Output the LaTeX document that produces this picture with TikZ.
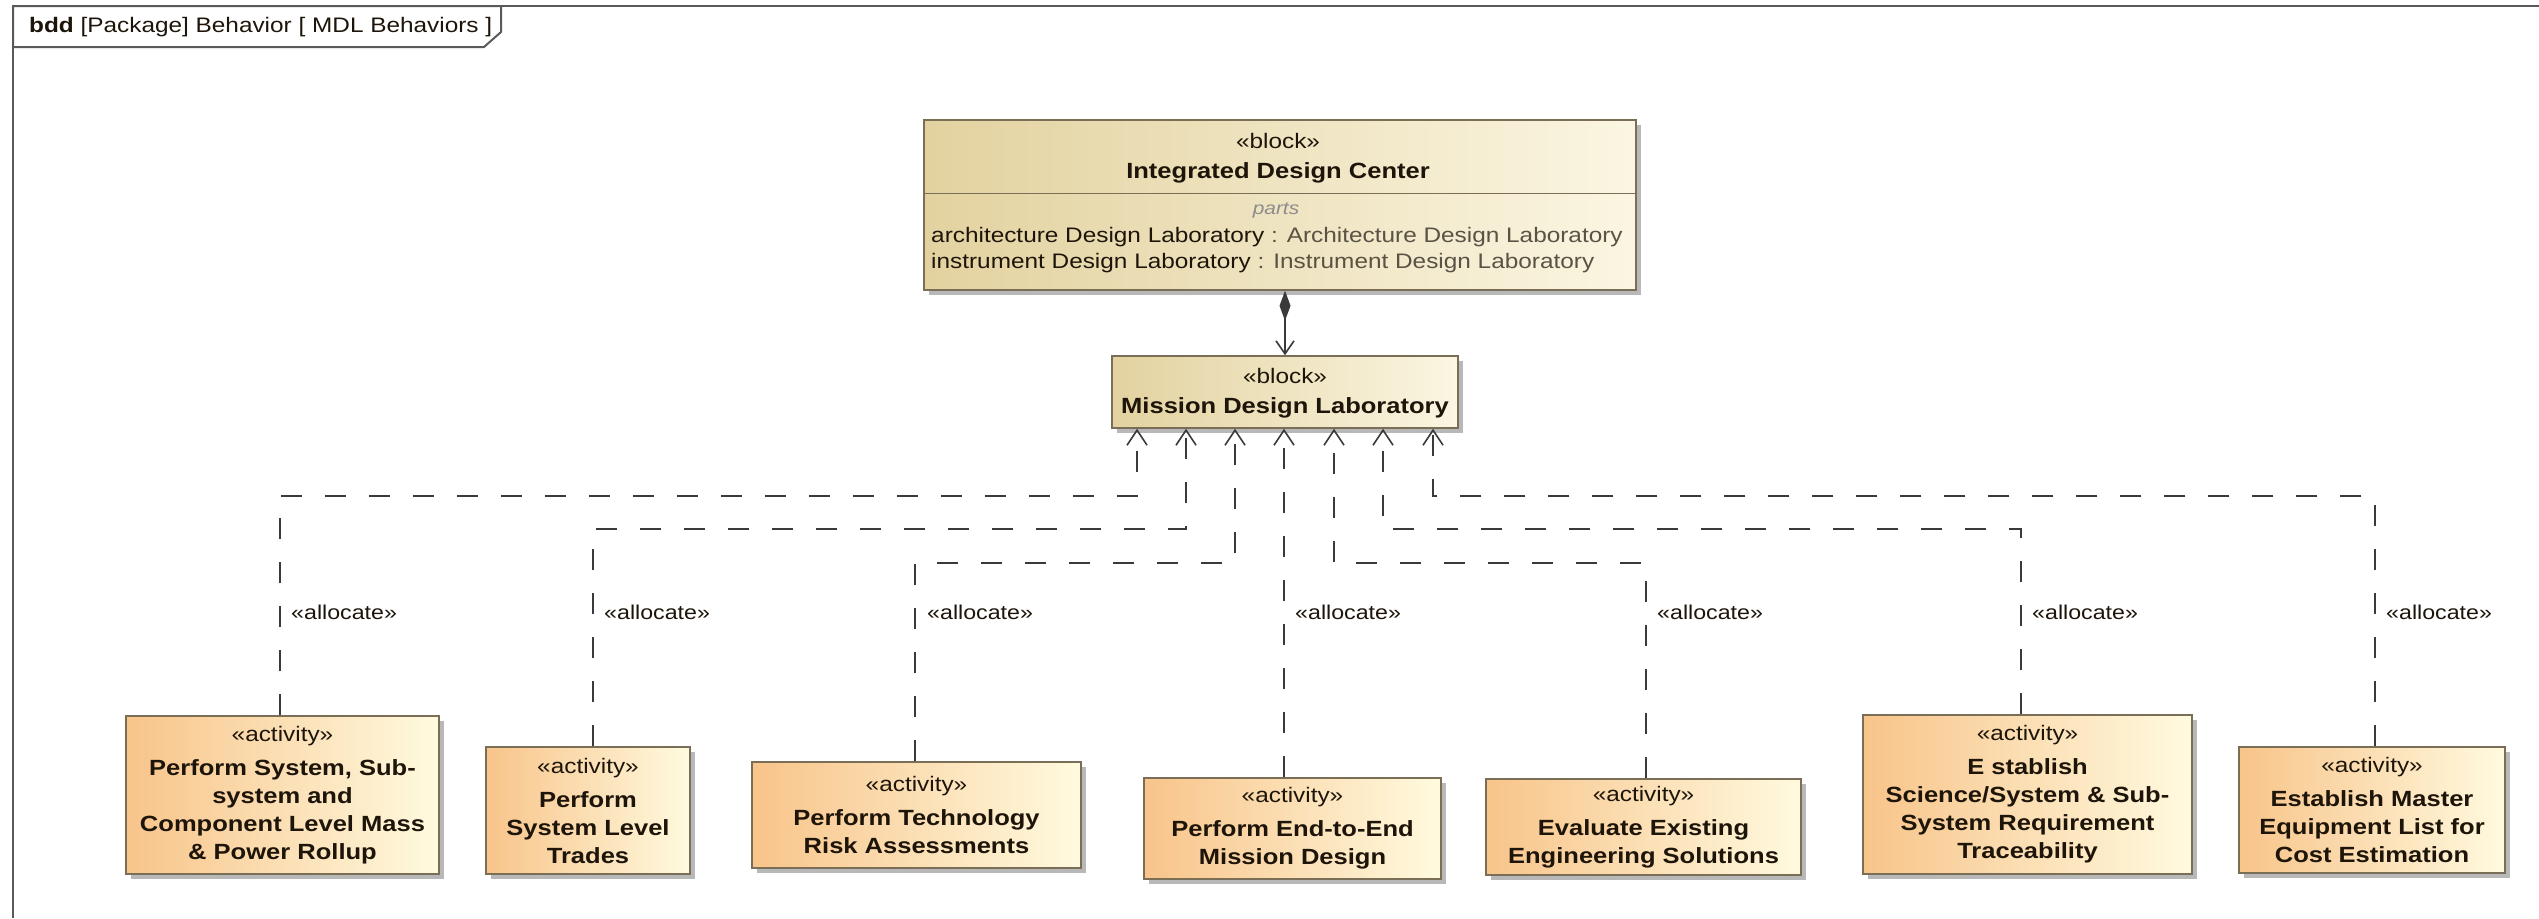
\documentclass[tikz,border=0pt]{standalone}
\usepackage{fontspec}
\setmainfont{Liberation Sans}[FakeStretch=1.16]
\usetikzlibrary{arrows.meta,shadows,calc}
\definecolor{ink}{HTML}{1E150A}
\definecolor{typec}{HTML}{5A5244}
\definecolor{partsc}{HTML}{8C8C8C}
\definecolor{blkL}{HTML}{E3D2A0}
\definecolor{blkR}{HTML}{FBF6E2}
\definecolor{actL}{HTML}{F8C48A}
\definecolor{actR}{HTML}{FFFADF}
\definecolor{bordc}{HTML}{7A6F56}
\definecolor{linec}{HTML}{3A3A3A}
\definecolor{framec}{HTML}{5A5A5A}
\newcommand{\stf}{\fontsize{21}{28}\selectfont\mdseries}
\begin{document}
\begin{tikzpicture}[x=1pt,y=-1pt,
  shade/.style={drop shadow={shadow xshift=5pt,shadow yshift=-5pt,fill=black,opacity=0.28}},
  blockbox/.style={draw=bordc,line width=1.5pt,left color=blkL,right color=blkR,shade,inner sep=0pt},
  actbox/.style={draw=bordc,line width=1.5pt,left color=actL,right color=actR,shade,inner sep=0pt,
    align=center,text=ink,font=\fontsize{22}{28}\selectfont\bfseries},
  txt/.style={inner sep=0pt,text=ink,font=\fontsize{21}{26}\selectfont},
  btxt/.style={inner sep=0pt,text=ink,font=\fontsize{22}{26}\selectfont\bfseries},
  lbl/.style={anchor=west,inner sep=0pt,text=ink,font=\fontsize{20}{24}\selectfont},
  alloc/.style={draw=linec,line width=1.6pt,dash pattern=on 21pt off 23pt,
    -{Straight Barb[length=15pt,width=20pt,line width=1.6pt]}},
  comp/.style={draw=linec,line width=1.6pt,
    {Diamond[length=30pt,width=11pt]}-{Straight Barb[length=13pt,width=18pt,line width=1.6pt]}},
  framel/.style={draw=framec,line width=2pt}
]
\useasboundingbox (0,0) rectangle (2539,918);
\fill[white] (0,0) rectangle (2539,918);

% frame and tab
\draw[framel] (2539,6) -- (13,6) -- (13,918);
\draw[framel,fill=white] (13,6) -- (501,6) -- (501,32) -- (484,47) -- (13,47) -- cycle;
\node[anchor=west,inner sep=0pt,text=ink,font=\fontsize{21}{24}\selectfont] (title) at (29,27)
  {\textbf{bdd} [Package] Behavior [ MDL Behaviors ]};

% Integrated Design Center
\node[blockbox,minimum width=712pt,minimum height=170pt] (IDC) at (1280,205) {};
\draw[draw=bordc,line width=1.5pt] ($(IDC.north west)+(0,74)$) -- ($(IDC.north east)+(0,74)$);
\node[txt] (idcst) at (1278,141) {«block»};
\node[btxt] (idcname) at (1278,173) {Integrated Design Center};
\node[inner sep=0pt,text=partsc,font=\fontsize{18}{22}\selectfont\itshape] (idcparts) at (1276,211) {parts};
\node[txt,anchor=west] (part1) at (931,237) {architecture Design Laboratory {\color{typec}: Architecture Design Laboratory}};
\node[txt,anchor=west] (part2) at (931,263) {instrument Design Laboratory {\color{typec}: Instrument Design Laboratory}};

% Mission Design Laboratory
\node[blockbox,minimum width=346pt,minimum height=72pt] (MDL) at (1285,392) {};
\node[txt] (mdlst) at (1285,376) {«block»};
\node[btxt] (mdlname) at (1285,408) {Mission Design Laboratory};

\draw[comp] (IDC.south -| MDL.north) -- (MDL.north);

% activities
\node[actbox,minimum width=313pt,minimum height=158pt] (B1) at (282.5,795)
  {{\stf «activity»}\\[6pt]Perform System, Sub-\\system and\\Component Level Mass\\\& Power Rollup};
\node[actbox,minimum width=204pt,minimum height=127pt] (B2) at (588,810.5)
  {{\stf «activity»}\\[6pt]Perform\\System Level\\Trades};
\node[actbox,minimum width=329pt,minimum height=106pt] (B3) at (916.5,815)
  {{\stf «activity»}\\[6pt]Perform Technology\\Risk Assessments};
\node[actbox,minimum width=297pt,minimum height=101pt] (B4) at (1292.5,828.5)
  {{\stf «activity»}\\[6pt]Perform End-to-End\\Mission Design};
\node[actbox,minimum width=315pt,minimum height=96pt] (B5) at (1643.5,827)
  {{\stf «activity»}\\[6pt]Evaluate Existing\\Engineering Solutions};
\node[actbox,minimum width=329pt,minimum height=159pt] (B6) at (2027.5,794.5)
  {{\stf «activity»}\\[6pt]E stablish\\Science/System \& Sub-\\System Requirement\\Traceability};
\node[actbox,minimum width=266pt,minimum height=126pt] (B7) at (2372,810)
  {{\stf «activity»}\\[6pt]Establish Master\\Equipment List for\\Cost Estimation};

% arrow end points on MDL
\coordinate (a1) at ($(MDL.south)+(-148,0)$);
\coordinate (a2) at ($(MDL.south)+(-99,0)$);
\coordinate (a3) at ($(MDL.south)+(-50,0)$);
\coordinate (a4) at ($(MDL.south)+(-1,0)$);
\coordinate (a5) at ($(MDL.south)+(49,0)$);
\coordinate (a6) at ($(MDL.south)+(98,0)$);
\coordinate (a7) at ($(MDL.south)+(148,0)$);
% levels
\coordinate (L1) at (0,496);
\coordinate (L2) at (0,529);
\coordinate (L3) at (0,563);
% activity connection points
\coordinate (c1) at ([xshift=-2.5pt]B1.north);
\coordinate (c2) at ([xshift=5pt]B2.north);
\coordinate (c3) at ([xshift=-1.5pt]B3.north);
\coordinate (c5) at ([xshift=2.5pt]B5.north);
\coordinate (c6) at ([xshift=-6.5pt]B6.north);
\coordinate (c7) at ([xshift=3pt]B7.north);

\draw[alloc] (c1) |- (a1 |- L1) -- (a1);
\draw[alloc] (c2) |- (a2 |- L2) -- (a2);
\draw[alloc] (c3) |- (a3 |- L3) -- (a3);
\draw[alloc] (a4 |- B4.north) -- (a4);
\draw[alloc] (c5) |- (a5 |- L3) -- (a5);
\draw[alloc] (c6) |- (a6 |- L2) -- (a6);
\draw[alloc] (c7) |- (a7 |- L1) -- (a7);

% labels
\node[lbl] (l1) at (291,612) {«allocate»};
\node[lbl] (l2) at (604,612) {«allocate»};
\node[lbl] (l3) at (927,612) {«allocate»};
\node[lbl] (l4) at (1295,612) {«allocate»};
\node[lbl] (l5) at (1657,612) {«allocate»};
\node[lbl] (l6) at (2032,612) {«allocate»};
\node[lbl] (l7) at (2386,612) {«allocate»};
\end{tikzpicture}
\end{document}
